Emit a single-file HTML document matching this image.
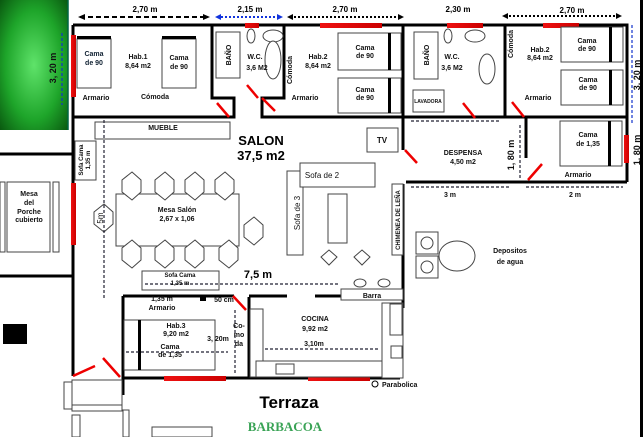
<!DOCTYPE html>
<html><head><meta charset="utf-8"><style>
html,body{margin:0;padding:0;background:#fff;}
svg{display:block;font-family:"Liberation Sans",Arial,sans-serif;font-weight:bold;}
</style></head><body>
<svg width="643" height="437" viewBox="0 0 643 437" xmlns="http://www.w3.org/2000/svg">
<defs>
<radialGradient id="g" cx="0.5" cy="0.5" r="0.7"><stop offset="0" stop-color="#5fe36a"/><stop offset="0.6" stop-color="#1ea52a"/><stop offset="1" stop-color="#0a5a10"/></radialGradient>
<linearGradient id="rw" x1="0" x2="1"><stop offset="0" stop-color="#ee1111"/><stop offset="1" stop-color="#cc0000"/></linearGradient>
</defs>
<rect x="0" y="0" width="68" height="130" fill="url(#g)"/>
<line x1="68" y1="0" x2="68" y2="130" stroke="#064" stroke-width="1.5"/>
<g font-size="8" fill="#000" text-anchor="middle">
<text x="145" y="12">2,70 m</text><text x="250" y="12">2,15 m</text><text x="345" y="12">2,70 m</text><text x="458" y="12">2,30 m</text><text x="572" y="13">2,70 m</text>
</g>
<line x1="80" y1="17" x2="208" y2="17" stroke="#000" stroke-width="2" stroke-dasharray="5,3"/>
<path d="M78 17l7-3v6zM210 17l-7-3v6z"/>
<line x1="217" y1="17" x2="280" y2="17" stroke="#1133dd" stroke-width="2" stroke-dasharray="2,2"/>
<path d="M215 17l6-3v6zM283 17l-6-3v6z" fill="#1133dd"/>
<line x1="290" y1="17" x2="400" y2="17" stroke="#000" stroke-width="2" stroke-dasharray="2,2"/>
<path d="M287 17l6-3v6zM404 17l-6-3v6z"/>
<line x1="505" y1="16" x2="618" y2="16" stroke="#000" stroke-width="2" stroke-dasharray="2,2"/>
<path d="M502 16l6-3v6zM622 16l-6-3v6z"/>
<g stroke="#000" stroke-width="3" fill="none">
<path d="M73 25H627V182"/>
<path d="M73 25V376"/>
<path d="M73 117H234V98H212V25"/>
<path d="M284 25V98H262V117H403"/>
<path d="M403 25V150"/>
<path d="M403 117H505V25"/>
<path d="M506 117H627"/>
<path d="M526 117V158"/>
<path d="M406 182H627"/>
<path d="M0 154H73M0 276H73"/>
<path d="M403 184V308"/>
<path d="M123 296H234M123 296V395M123 378H400M249 297V378M249 296H287M315 296H342"/>
</g>
<g fill="url(#rw)">
<rect x="71" y="35" width="5" height="62"/><rect x="71" y="183" width="5" height="62"/>
<rect x="245" y="23" width="14" height="5"/><rect x="320" y="23" width="62" height="5"/><rect x="447" y="23" width="36" height="5"/><rect x="543" y="23" width="36" height="5"/>
<rect x="624" y="135" width="5" height="28"/>
<rect x="164" y="376" width="62" height="5"/><rect x="308" y="376" width="62" height="5"/>
</g>
<g stroke="#e00" stroke-width="2.5">
<line x1="217" y1="103" x2="229" y2="117"/><line x1="247" y1="85" x2="258" y2="98"/><line x1="262" y1="98" x2="275" y2="111"/>
<line x1="463" y1="103" x2="475" y2="118"/><line x1="512" y1="102" x2="524" y2="117"/>
<line x1="405" y1="150" x2="417" y2="163"/><line x1="528" y1="180" x2="542" y2="164"/>
<line x1="73" y1="376" x2="95" y2="366"/><line x1="103" y1="358" x2="120" y2="377"/>
<line x1="233" y1="296" x2="246" y2="310"/>
</g>
<g fill="#fff" stroke="#444" stroke-width="1">
<rect x="77" y="39" width="34" height="49"/><rect x="162" y="39" width="34" height="49"/>
<rect x="216" y="32" width="24" height="46"/>
<ellipse cx="251" cy="36" rx="4" ry="7"/><ellipse cx="273" cy="36" rx="10" ry="6"/><ellipse cx="273" cy="60" rx="8" ry="19"/>
<rect x="338" y="33" width="63" height="37"/><rect x="338" y="78" width="63" height="35"/>
<rect x="414" y="32" width="24" height="47"/><rect x="413" y="90" width="31" height="22"/>
<ellipse cx="448" cy="36" rx="4" ry="7"/><ellipse cx="475" cy="36" rx="10" ry="6"/><ellipse cx="487" cy="69" rx="8" ry="15"/>
<rect x="561" y="27" width="62" height="35"/><rect x="561" y="70" width="62" height="35"/>
<rect x="560" y="121" width="62" height="45"/>
<rect x="95" y="122" width="135" height="17"/>
<rect x="75" y="141" width="21" height="39"/>
<rect x="7" y="182" width="43" height="70"/><rect x="0" y="182" width="5" height="70"/><rect x="53" y="182" width="6" height="70"/>
<rect x="116" y="194" width="123" height="52"/>
<rect x="367" y="128" width="31" height="24"/>
<rect x="287" y="171" width="16" height="84"/><rect x="300" y="163" width="75" height="24"/>
<rect x="328" y="194" width="19" height="49"/>
<rect x="392" y="184" width="11" height="71"/>
<rect x="142" y="271" width="77" height="19"/>
<rect x="341" y="289" width="62" height="11"/>
<rect x="124" y="320" width="91" height="50"/>
<rect x="250" y="309" width="13" height="68"/>
<rect x="382" y="303" width="21" height="75"/><rect x="390" y="304" width="12" height="31"/><rect x="391" y="346" width="11" height="12"/>
<rect x="256" y="361" width="126" height="16"/><rect x="276" y="364" width="18" height="10"/>
<rect x="416" y="232" width="22" height="22"/><rect x="416" y="256" width="22" height="22"/>
<circle cx="427" cy="243" r="6"/><circle cx="427" cy="267" r="6"/>
<ellipse cx="457" cy="256" rx="18" ry="15"/>
<ellipse cx="360" cy="283" rx="6" ry="4"/><ellipse cx="384" cy="283" rx="6" ry="4"/>
<rect x="64" y="382" width="8" height="27"/><rect x="72" y="380" width="50" height="25"/><rect x="72" y="405" width="50" height="6"/>
<rect x="72" y="415" width="8" height="22"/><rect x="123" y="410" width="6" height="27"/><rect x="152" y="427" width="60" height="10"/>
</g>
<g fill="#fff" stroke="#444" stroke-width="1">
<polygon points="132,172 141,180 141,192 132,200 122,192 122,180"/><polygon points="165,172 174,180 174,192 165,200 155,192 155,180"/>
<polygon points="195,172 204,180 204,192 195,200 185,192 185,180"/><polygon points="225,172 234,180 234,192 225,200 215,192 215,180"/>
<polygon points="132,240 141,248 141,260 132,268 122,260 122,248"/><polygon points="165,240 174,248 174,260 165,268 155,260 155,248"/>
<polygon points="195,240 204,248 204,260 195,268 185,260 185,248"/><polygon points="229,240 238,248 238,260 229,268 219,260 219,248"/>
<polygon points="254,217 263,225 263,237 254,245 244,237 244,225"/><polygon points="104,204 113,212 113,224 104,232 94,224 94,212"/>
<polygon points="329,250 337,257 329,265 321,257"/><polygon points="362,250 370,257 362,265 354,257"/>
</g>
<g fill="#000">
<rect x="77" y="36" width="34" height="3"/><rect x="162" y="36" width="34" height="3"/>
<rect x="388" y="33" width="3" height="37"/><rect x="388" y="78" width="3" height="35"/>
<rect x="609" y="27" width="3" height="35"/><rect x="609" y="70" width="3" height="35"/><rect x="608" y="121" width="3" height="45"/>
<rect x="138" y="320" width="3" height="50"/><rect x="200" y="296" width="6" height="5"/>
<rect x="3" y="324" width="24" height="20"/>
</g>
<g stroke="#223" stroke-width="1.2" stroke-dasharray="3,2" fill="none">
<line x1="104" y1="120" x2="104" y2="300"/>
<line x1="62" y1="33" x2="62" y2="105" stroke="#13c"/>
<line x1="632" y1="25" x2="632" y2="125" stroke="#13c"/>
<line x1="411" y1="121" x2="500" y2="121"/>
<line x1="520" y1="125" x2="520" y2="178"/>
<line x1="411" y1="187" x2="510" y2="187"/><line x1="526" y1="187" x2="623" y2="187"/>
<line x1="145" y1="284" x2="340" y2="284"/>
<line x1="126" y1="352" x2="228" y2="352"/>
<line x1="235" y1="310" x2="235" y2="375"/>
<line x1="265" y1="349" x2="380" y2="349"/>
</g>
<g font-size="7" fill="#111" text-anchor="middle">
<text x="94" y="56" fill="#123">Cama</text><text x="94" y="65" fill="#123">de 90</text>
<text x="138" y="59">Hab.1</text><text x="138" y="68">8,64 m2</text>
<text x="179" y="60">Cama</text><text x="179" y="69">de 90</text>
<text x="96" y="100">Armario</text><text x="155" y="99">Cómoda</text>
<text x="255" y="59">W.C.</text><text x="257" y="70">3,6 M2</text>
<text x="318" y="59">Hab.2</text><text x="318" y="68">8,64 m2</text>
<text x="365" y="50">Cama</text><text x="365" y="58">de 90</text>
<text x="365" y="92">Cama</text><text x="365" y="100">de 90</text>
<text x="305" y="100">Armario</text>
<text x="452" y="59">W.C.</text><text x="452" y="70">3,6 M2</text>
<text x="428" y="103" font-size="5">LAVADORA</text>
<text x="540" y="52">Hab.2</text><text x="540" y="60">8,64 m2</text>
<text x="587" y="43">Cama</text><text x="587" y="51">de 90</text>
<text x="588" y="82">Cama</text><text x="588" y="90">de 90</text>
<text x="538" y="100">Armario</text>
<text x="588" y="137">Cama</text><text x="588" y="146">de 1,35</text>
<text x="578" y="177">Armario</text>
<text x="463" y="155">DESPENSA</text><text x="463" y="164">4,50 m2</text>
<text x="450" y="197">3 m</text><text x="575" y="197">2 m</text>
<text x="163" y="130">MUEBLE</text>
<text x="29" y="196">Mesa</text><text x="29" y="205">del</text><text x="29" y="214">Porche</text><text x="29" y="222">cubierto</text>
<text x="177" y="212">Mesa Salón</text><text x="177" y="221">2,67 x 1,06</text>
<text x="382" y="143" font-size="8">TV</text>
<text x="322" y="178" font-size="8" font-weight="normal">Sofa de 2</text>
<text x="180" y="277" font-size="6">Sofa Cama</text><text x="180" y="285" font-size="6">1,35 m</text>
<text x="162" y="301">1,35 m</text><text x="162" y="310">Armario</text>
<text x="224" y="302">50 cm</text>
<text x="176" y="328">Hab.3</text><text x="176" y="336">9,20 m2</text>
<text x="170" y="349">Cama</text><text x="170" y="357">de 1,35</text>
<text x="218" y="341">3, 20m</text>
<text x="239" y="328">Co-</text><text x="239" y="337">mo</text><text x="239" y="346">da</text>
<text x="315" y="321">COCINA</text><text x="315" y="331">9,92 m2</text>
<text x="314" y="346">3,10m</text>
<text x="372" y="298">Barra</text>
<text x="510" y="253">Depositos</text><text x="510" y="264">de agua</text>
<text x="382" y="387" text-anchor="start">Parabolica</text>
</g>
<circle cx="375" cy="384" r="3" fill="none" stroke="#000"/>
<g font-size="7" fill="#111" text-anchor="middle">
<text transform="translate(231,55) rotate(-90)">BAÑO</text>
<text transform="translate(429,55) rotate(-90)">BAÑO</text>
<text transform="translate(292,70) rotate(-90)">Cómoda</text>
<text transform="translate(513,44) rotate(-90)">Cómoda</text>
<text transform="translate(83,160) rotate(-90)" font-size="6">Sofa Cama</text>
<text transform="translate(90,160) rotate(-90)" font-size="6">1,35 m</text>
<text transform="translate(300,213) rotate(-90)" font-size="8" font-weight="normal">Sofa de 3</text>
<text transform="translate(400,220) rotate(-90)" font-size="6">CHIMENEA DE LEÑA</text>
<text transform="translate(103,218) rotate(-90)" font-size="8" font-weight="normal">5m</text>
<text transform="translate(56,68) rotate(-90)" font-size="9">3, 20 m</text>
<text transform="translate(640,75) rotate(-90)" font-size="9">3, 20 m</text>
<text transform="translate(640,150) rotate(-90)" font-size="9">1, 80 m</text>
<text transform="translate(514,155) rotate(-90)" font-size="9">1, 80 m</text>
</g>
<text x="261" y="145" font-size="13" text-anchor="middle">SALON</text>
<text x="261" y="160" font-size="13" text-anchor="middle">37,5 m2</text>
<text x="258" y="278" font-size="11" text-anchor="middle">7,5 m</text>
<text x="289" y="408" font-size="17" text-anchor="middle">Terraza</text>
<text x="285" y="431" font-size="13" text-anchor="middle" fill="#3aa356" font-family="Liberation Serif,serif">BARBACOA</text>
<rect x="640" y="0" width="3" height="437" fill="#000"/>
</svg>
</body></html>
